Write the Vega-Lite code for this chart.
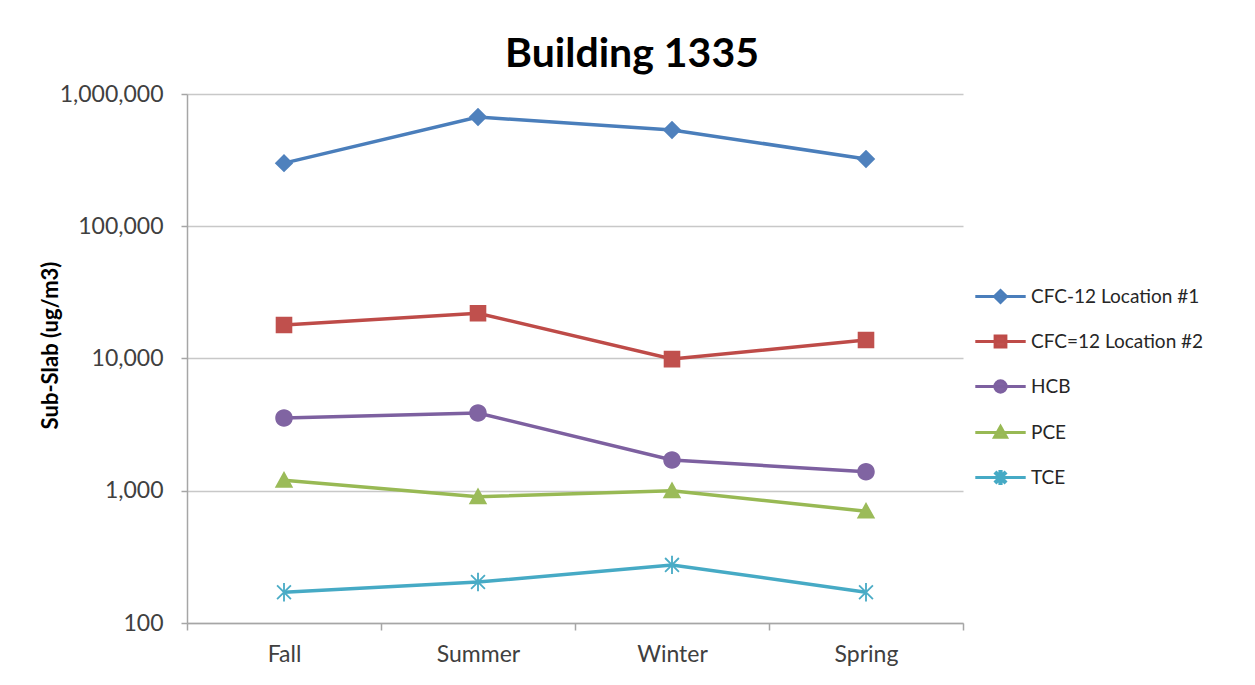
{
  "$schema": "https://vega.github.io/schema/vega-lite/v6.json",
  "width": 776,
  "height": 529,
  "autosize": {"type": "none"},
  "padding": {"left": 187, "top": 94, "right": 292, "bottom": 62},
  "background": "white",
  "config": {
    "font": "Lato",
    "view": {"stroke": null},
    "legend": {
      "orient": "none",
      "legendX": 804,
      "legendY": 193,
      "labelFont": "Lato",
      "labelFontSize": 19,
      "labelColor": "#262626",
      "labelLimit": 300,
      "symbolSize": 144,
      "symbolStrokeWidth": 3,
      "symbolOpacity": 1,
      "labelOffset": 21,
      "rowPadding": 21
    }
  },
  "title": {
    "text": "Building 1335",
    "font": "Lato",
    "fontSize": 41,
    "fontWeight": "bold",
    "color": "#000000",
    "anchor": "middle",
    "dx": 57,
    "offset": 7
  },
  "data": {
    "values": [
      {"season": "Fall", "series": "CFC-12 Location #1", "value": 300000},
      {"season": "Summer", "series": "CFC-12 Location #1", "value": 670000},
      {"season": "Winter", "series": "CFC-12 Location #1", "value": 535000},
      {"season": "Spring", "series": "CFC-12 Location #1", "value": 323000},
      {"season": "Fall", "series": "CFC=12 Location #2", "value": 17900},
      {"season": "Summer", "series": "CFC=12 Location #2", "value": 22000},
      {"season": "Winter", "series": "CFC=12 Location #2", "value": 9900},
      {"season": "Spring", "series": "CFC=12 Location #2", "value": 13800},
      {"season": "Fall", "series": "HCB", "value": 3550},
      {"season": "Summer", "series": "HCB", "value": 3870},
      {"season": "Winter", "series": "HCB", "value": 1710},
      {"season": "Spring", "series": "HCB", "value": 1390},
      {"season": "Fall", "series": "PCE", "value": 1200},
      {"season": "Summer", "series": "PCE", "value": 900},
      {"season": "Winter", "series": "PCE", "value": 1000},
      {"season": "Spring", "series": "PCE", "value": 700},
      {"season": "Fall", "series": "TCE", "value": 171},
      {"season": "Summer", "series": "TCE", "value": 204},
      {"season": "Winter", "series": "TCE", "value": 275},
      {"season": "Spring", "series": "TCE", "value": 171}
    ]
  },
  "encoding": {
    "x": {
      "field": "season",
      "type": "nominal",
      "sort": ["Fall", "Summer", "Winter", "Spring"],
      "scale": {"type": "band", "paddingInner": 0, "paddingOuter": 0},
      "axis": {
        "title": null,
        "labelAngle": 0,
        "labelFont": "Lato",
        "labelFontSize": 23,
        "labelColor": "#404040",
        "labelPadding": 13,
        "tickBand": "extent",
        "tickSize": 7,
        "tickColor": "#A6A6A6",
        "tickWidth": 1.5,
        "domainColor": "#A6A6A6",
        "domainWidth": 1.5,
        "grid": false
      }
    },
    "y": {
      "field": "value",
      "type": "quantitative",
      "scale": {"type": "log", "domain": [100, 1000000]},
      "axis": {
        "title": "Sub-Slab (ug/m3)",
        "titleFont": "Lato",
        "titleFontSize": 22,
        "titleFontWeight": "bold",
        "titleColor": "#000000",
        "titleX": -125,
        "titleY": 251,
        "values": [100, 1000, 10000, 100000, 1000000],
        "format": ",",
        "labelFont": "Lato",
        "labelFontSize": 23,
        "labelColor": "#404040",
        "labelPadding": 18,
        "tickSize": 6,
        "tickColor": "#A6A6A6",
        "tickWidth": 1.5,
        "domainColor": "#A6A6A6",
        "domainWidth": 1.5,
        "grid": true,
        "gridColor": "#C8C8C8",
        "gridWidth": 1.5
      }
    }
  },
  "layer": [
    {
      "mark": {"type": "line", "strokeWidth": 3.5},
      "encoding": {
        "stroke": {
          "field": "series",
          "type": "nominal",
          "title": null,
          "scale": {
            "domain": ["CFC-12 Location #1", "CFC=12 Location #2", "HCB", "PCE", "TCE"],
            "range": ["#4A7EBB", "#BE4B48", "#7D60A0", "#98B954", "#46AAC5"]
          }
        }
      }
    },
    {
      "mark": {"type": "point", "filled": true, "opacity": 1, "size": 340, "strokeWidth": 0},
      "encoding": {
        "fill": {
          "field": "series",
          "type": "nominal",
          "title": null,
          "scale": {
            "domain": ["CFC-12 Location #1", "CFC=12 Location #2", "HCB", "PCE", "TCE"],
            "range": ["#4F81BD", "#C0504D", "#8064A2", "#9BBB59", "#4BACC6"]
          }
        },
        "stroke": {
          "field": "series",
          "type": "nominal",
          "title": null
        },
        "shape": {
          "field": "series",
          "type": "nominal",
          "title": null,
          "scale": {
            "domain": ["CFC-12 Location #1", "CFC=12 Location #2", "HCB", "PCE", "TCE"],
            "range": [
              "M-4.2,0H4.2M0,-1L1,0L0,1L-1,0Z",
              "M-4.2,0H4.2M-0.9,-0.9H0.9V0.9H-0.9Z",
              "M-4.2,0H4.2M0.95,0C0.95,0.5247,0.5247,0.95,0,0.95C-0.5247,0.95,-0.95,0.5247,-0.95,0C-0.95,-0.5247,-0.5247,-0.95,0,-0.95C0.5247,-0.95,0.95,-0.5247,0.95,0Z",
              "M-4.2,0H4.2M0,-1L1,0.8L-1,0.8Z",
              "M-4.2,0H4.2M-0.1,-1H0.1V1H-0.1ZM-0.68,-0.82L0.82,0.68L0.68,0.82L-0.82,-0.68ZM0.82,-0.68L-0.68,0.82L-0.82,0.68L0.68,-0.82Z"
            ]
          }
        }
      }
    }
  ]
}
